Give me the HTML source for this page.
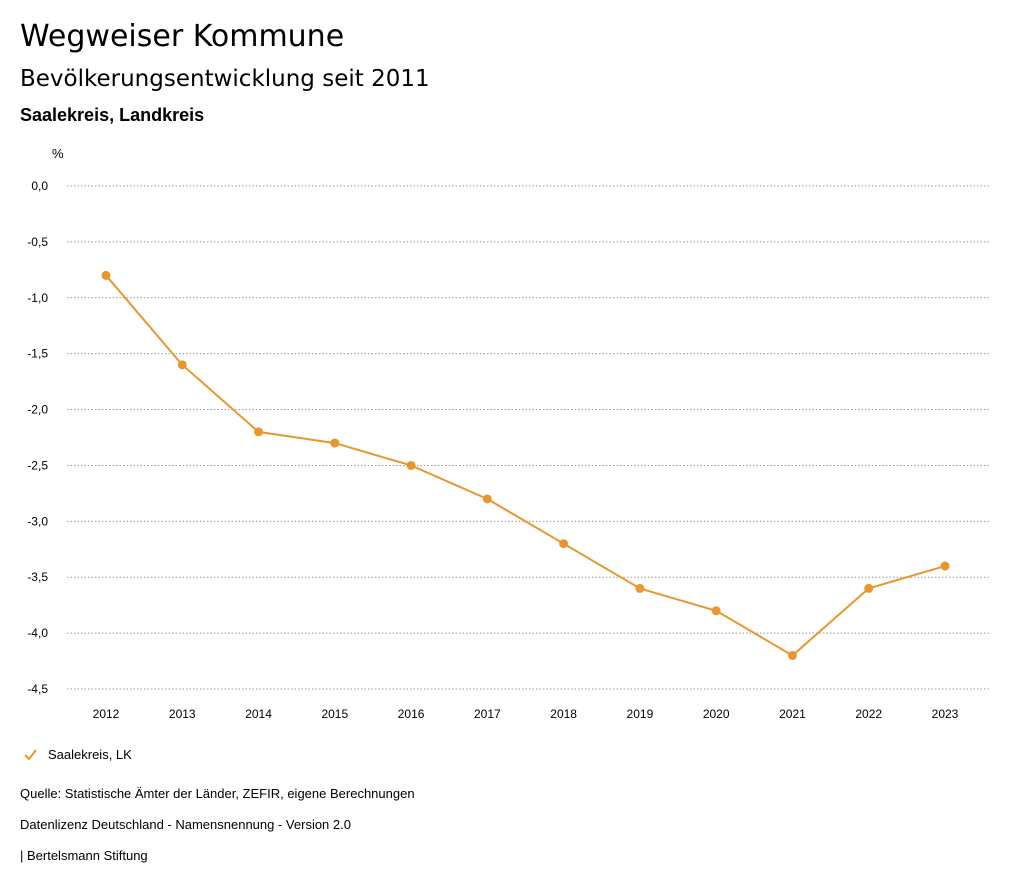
<!DOCTYPE html>
<html><head><meta charset="utf-8"><style>
body{margin:0;width:1024px;height:888px;background:#fff;font-family:"Liberation Sans",sans-serif;color:#000;overflow:hidden}
.t{position:absolute;left:20px;white-space:nowrap}
</style></head><body>
<div class="t" style="top:19px;font-size:30px;font-family:'DejaVu Sans',sans-serif">Wegweiser Kommune</div>
<div class="t" style="top:66px;font-size:23px;font-family:'DejaVu Sans',sans-serif">Bevölkerungsentwicklung seit 2011</div>
<div class="t" style="top:105px;font-size:18px;font-weight:bold">Saalekreis, Landkreis</div>
<svg id="chart" width="1024" height="888" style="position:absolute;left:0;top:0"></svg>
<div class="t" style="top:786px;font-size:13px">Quelle: Statistische Ämter der Länder, ZEFIR, eigene Berechnungen</div>
<div class="t" style="top:817px;font-size:13px">Datenlizenz Deutschland - Namensnennung - Version 2.0</div>
<div class="t" style="top:848px;font-size:13px">| Bertelsmann Stiftung</div>
<script>
const years=["2012","2013","2014","2015","2016","2017","2018","2019","2020","2021","2022","2023"];
const values=[-0.8,-1.6,-2.2,-2.3,-2.5,-2.8,-3.2,-3.6,-3.8,-4.2,-3.6,-3.4];
const yTicks=[0,-0.5,-1,-1.5,-2,-2.5,-3,-3.5,-4,-4.5];
const NS="http://www.w3.org/2000/svg";
const svg=document.getElementById('chart');
const col="#e8972f";
function X(i){return 106+i*(945-106)/11;}
function Y(v){return 186+(-v)*(689-186)/4.5;}
function mk(t,a,txt){const e=document.createElementNS(NS,t);for(const k in a)e.setAttribute(k,a[k]);if(txt!==undefined)e.textContent=txt;svg.appendChild(e);return e;}
const u=mk('text',{x:52,y:158,'font-size':13,'font-family':'Liberation Sans'},'%');


yTicks.forEach(v=>{
  const g=mk('line',{x1:67,x2:990,y1:Y(v),y2:Y(v),stroke:'#999','stroke-dasharray':'1.5,2','stroke-width':1});
  
  
  const t=mk('text',{x:48,y:Y(v)+4,'font-size':12,'text-anchor':'end','font-family':'Liberation Sans'},v.toFixed(1).replace('.',','));
  
  
});
years.forEach((y,i)=>{
  const t=mk('text',{x:X(i),y:718,'font-size':12,'text-anchor':'middle','font-family':'Liberation Sans'},y);
  
  
});
const p=mk('polyline',{points:values.map((v,i)=>X(i)+','+Y(v)).join(' '),fill:'none',stroke:col,'stroke-width':2});


values.forEach((v,i)=>{
  const c=mk('circle',{cx:X(i),cy:Y(v),r:4.5,fill:col});
  
  
});
const lm=mk('polyline',{points:'25,755 29,759 36,750',fill:'none',stroke:col,'stroke-width':2});


const lt=mk('text',{x:48,y:759,'font-size':13,'font-family':'Liberation Sans'},'Saalekreis, LK');


</script>
</body></html>
